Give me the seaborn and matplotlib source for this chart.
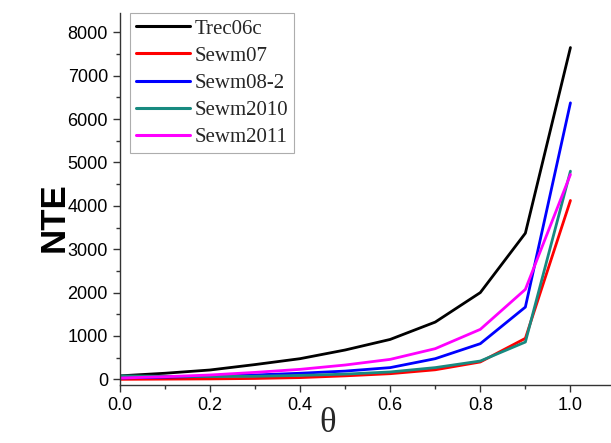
import numpy as np
import pandas as pd
import matplotlib
matplotlib.use("Agg")
import matplotlib.pyplot as plt
import seaborn as sns
from matplotlib.ticker import MultipleLocator

theta = [0.0, 0.1, 0.2, 0.3, 0.4, 0.5, 0.6, 0.7, 0.8, 0.9, 1.0]
trec06c = [80, 140, 215, 340, 476, 676, 920, 1320, 2000, 3370, 7650]
sewm07 = [0, 5, 10, 20, 40, 80, 130, 220, 400, 945, 4124]
sewm08_2 = [30, 50, 70, 100, 140, 190, 270, 476, 822, 1666, 6375]
sewm2010 = [80, 70, 65, 70, 90, 120, 170, 270, 422, 860, 4800]
sewm2011 = [30, 60, 100, 160, 230, 330, 460, 707, 1152, 2074, 4723]

names = ["Trec06c", "Sewm07", "Sewm08-2", "Sewm2010", "Sewm2011"]
colors = ["#000000", "#ff0000", "#0000ff", "#188a80", "#ff00ff"]
series = [trec06c, sewm07, sewm08_2, sewm2010, sewm2011]

rows = []
for name, vals in zip(names, series):
    for t, v in zip(theta, vals):
        rows.append({"theta": t, "NTE": v, "dataset": name})
df = pd.DataFrame(rows)

sns.set_style("ticks")
plt.rcParams["font.family"] = ["Liberation Sans", "DejaVu Sans"]

fig = plt.figure(figsize=(6.11, 4.43), dpi=100)
ax = fig.add_axes([0.196, 0.131, 0.804, 0.84])

sns.lineplot(data=df, x="theta", y="NTE", hue="dataset", hue_order=names,
             palette=dict(zip(names, colors)), linewidth=2.0, ax=ax)

ax.set_xlim(0, 1.09)
ax.set_ylim(-130, 8450)
ax.xaxis.set_major_locator(MultipleLocator(0.2))
ax.xaxis.set_minor_locator(MultipleLocator(0.1))
ax.yaxis.set_major_locator(MultipleLocator(1000))
ax.yaxis.set_minor_locator(MultipleLocator(500))
ax.xaxis.set_major_formatter(matplotlib.ticker.FormatStrFormatter("%.1f"))
ax.tick_params(which="major", direction="out", length=5, width=1, labelsize=13, colors="#333333", labelcolor="black")
ax.tick_params(which="minor", direction="out", length=3, width=1, colors="#333333")
sns.despine(ax=ax)
for s in ["left", "bottom"]:
    ax.spines[s].set_color("#333333")
    ax.spines[s].set_linewidth(1)

ax.set_xlabel("θ", family=["Liberation Serif"], fontsize=25)
ax.xaxis.set_label_coords(0.423, -0.058)
ax.set_ylabel("NTE", fontsize=25, fontweight="bold", color="black")
ax.yaxis.set_label_coords(-0.10, 0.45)

leg = ax.legend(loc="upper left", bbox_to_anchor=(0.02, 1.0), frameon=True,
                fancybox=False, edgecolor="#999999", handlelength=2.6,
                handletextpad=0.2, labelspacing=0.36, borderpad=0.3,
                borderaxespad=0.0, prop={"family": "Liberation Serif", "size": 15})
leg.get_frame().set_linewidth(0.8)
for line in leg.get_lines():
    line.set_linewidth(2.2)

fig.savefig("out.png", dpi=100)
